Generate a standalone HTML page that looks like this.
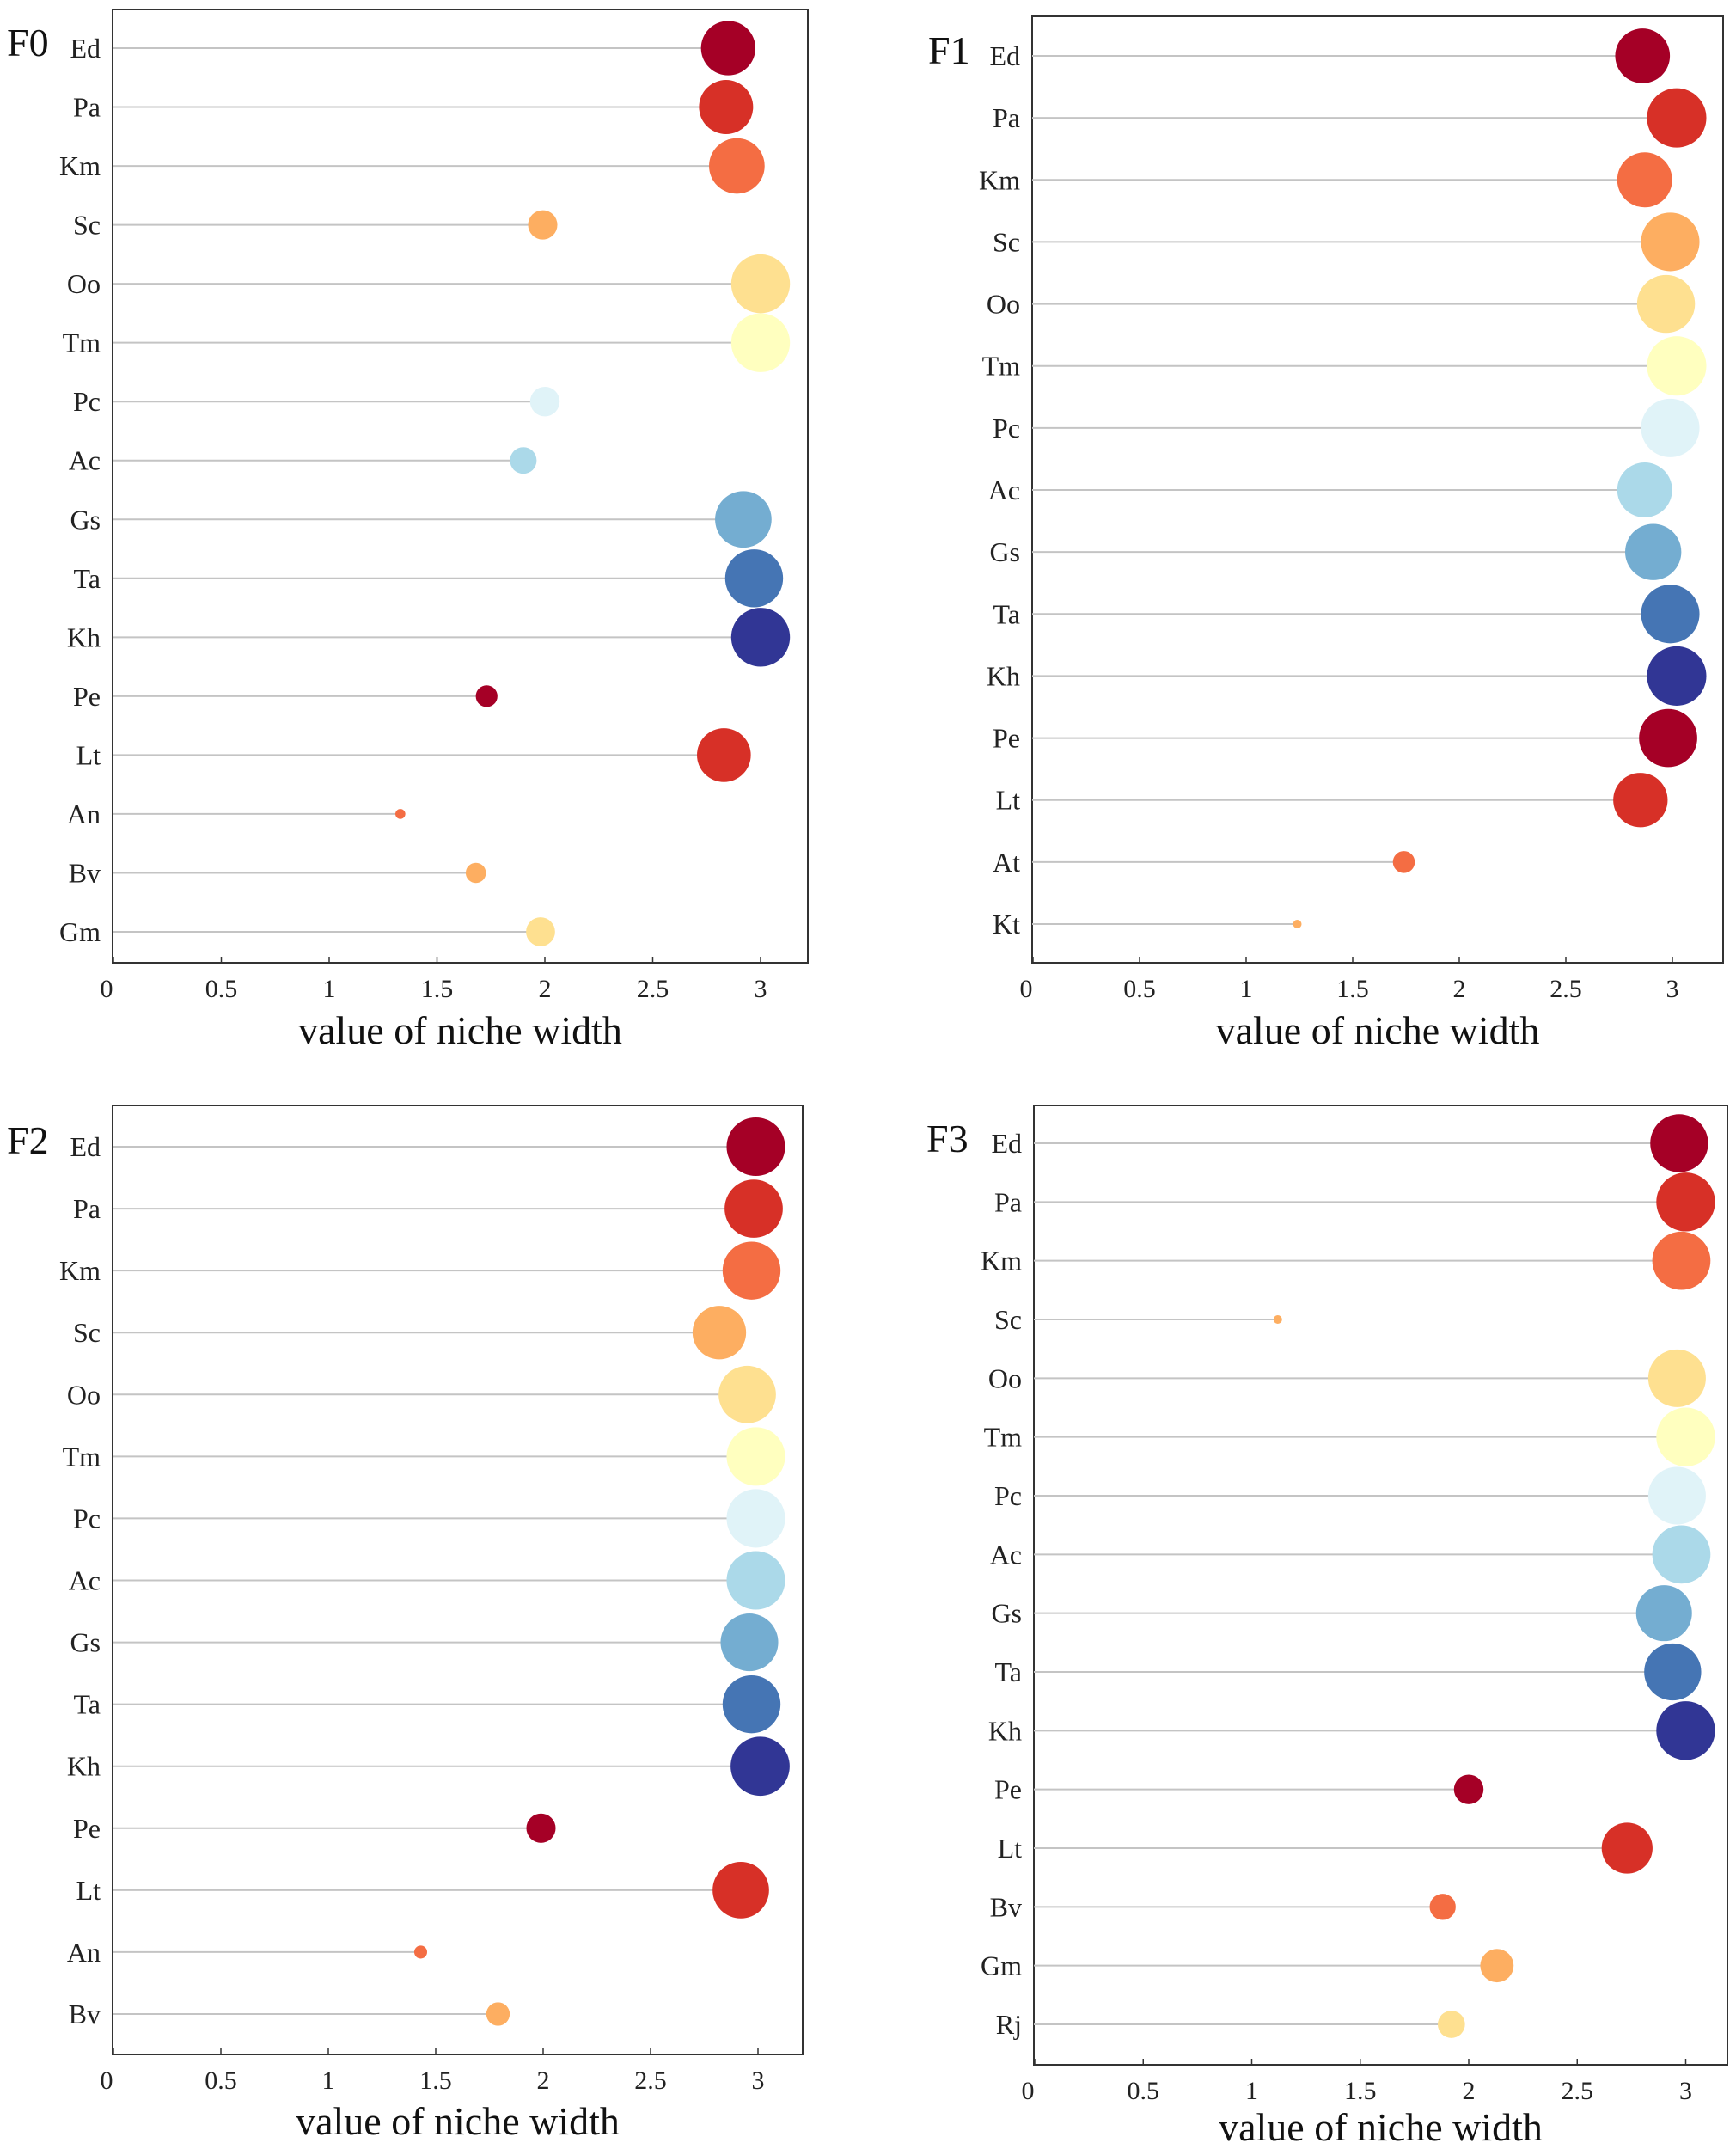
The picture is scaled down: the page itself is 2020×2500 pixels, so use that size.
<!DOCTYPE html>
<html><head><meta charset="utf-8"><style>
html,body{margin:0;padding:0;background:#fff;}
svg{display:block;font-family:"Liberation Serif",serif;}
</style></head><body>
<svg id="chart" width="2020" height="2500" viewBox="0 0 2020 2500" xmlns="http://www.w3.org/2000/svg"></svg>
<script>
const colors = ["#a50026","#d73027","#f46d43","#fdae61","#fee090","#ffffbf","#e0f3f8","#abd9e9","#74add1","#4575b4","#313695","#a50026","#d73027","#f46d43","#fdae61","#fee090"];
const xTicks = [0,0.5,1,1.5,2,2.5,3];
const xTickLabels = ["0","0.5","1","1.5","2","2.5","3"];
const f0Species = ["Ed","Pa","Km","Sc","Oo","Tm","Pc","Ac","Gs","Ta","Kh","Pe","Lt","An","Bv","Gm"];
const f0Values = [2.85,2.84,2.89,1.99,3.0,3.0,2.0,1.90,2.92,2.97,3.0,1.73,2.83,1.33,1.68,1.98];
const f1Species = ["Ed","Pa","Km","Sc","Oo","Tm","Pc","Ac","Gs","Ta","Kh","Pe","Lt","At","Kt"];
const f1Values = [2.86,3.02,2.87,2.99,2.97,3.02,2.99,2.87,2.91,2.99,3.02,2.98,2.85,1.74,1.24];
const f2Species = ["Ed","Pa","Km","Sc","Oo","Tm","Pc","Ac","Gs","Ta","Kh","Pe","Lt","An","Bv"];
const f2Values = [2.99,2.98,2.97,2.82,2.95,2.99,2.99,2.99,2.96,2.97,3.01,1.99,2.92,1.43,1.79];
const f3Species = ["Ed","Pa","Km","Sc","Oo","Tm","Pc","Ac","Gs","Ta","Kh","Pe","Lt","Bv","Gm","Rj"];
const f3Values = [2.97,3.0,2.98,1.12,2.96,3.0,2.96,2.98,2.90,2.94,3.0,2.0,2.73,1.88,2.13,1.92];
const f3Colors = ["#a50026","#d73027","#f46d43","#fdae61","#fee090","#ffffbf","#e0f3f8","#abd9e9","#74add1","#4575b4","#313695","#a50026","#d73027","#f46d43","#fdae61","#fee090"];

const NS="http://www.w3.org/2000/svg";
const svg=document.getElementById('chart');
function mk(tag,attrs,parent){const e=document.createElementNS(NS,tag);for(const k in attrs)e.setAttribute(k,attrs[k]);(parent||svg).appendChild(e);return e;}

function panel(cfg, species, values, cols){
  const g=mk('g',{});
  
  
  const xs=v=>cfg.x0+v*cfg.unit;
  const ys=i=>cfg.yFirst+i*(cfg.yLast-cfg.yFirst)/(species.length-1);
  const box=mk('rect',{x:cfg.left,y:cfg.top,width:cfg.right-cfg.left,height:cfg.bottom-cfg.top,fill:'none',stroke:'#333',"stroke-width":2},g);
  
  
  const ttl=mk('text',{x:cfg.tx,y:cfg.ty,"font-size":46,fill:'#111'},g);
  ttl.textContent=cfg.name;
  
  
  species.forEach((s,i)=>{
    const y=ys(i), v=values[i];
    const ln=mk('line',{x1:cfg.left,x2:xs(v),y1:y,y2:y,stroke:'#c4c4c4',"stroke-width":2},g);
    
    
    const r=Math.max(5,17*v-16.8);
    const c=mk('circle',{cx:xs(v),cy:y,r:r,fill:cols[i]},g);
    
    
    const t=mk('text',{x:cfg.left-14,y:y+11,"text-anchor":'end',"font-size":32,fill:'#222'},g);
    t.textContent=s;
    
    
  });
  xTicks.forEach((v,i)=>{
    const x=xs(v);
    const tk=mk('line',{x1:x,x2:x,y1:cfg.bottom,y2:cfg.bottom-7,stroke:'#333',"stroke-width":1.5},g);
    
    
    const t=mk('text',{x:x-(i===0?8:0),y:cfg.bottom+40,"text-anchor":'middle',"font-size":30,fill:'#222'},g);
    t.textContent=xTickLabels[i];
    
    
  });
  const xl=mk('text',{x:(cfg.left+cfg.right)/2,y:cfg.xly,"text-anchor":'middle',"font-size":46,fill:'#111'},g);
  xl.textContent='value of niche width';
  
  
}

panel({name:'F0',left:131,right:940,top:11,bottom:1120,x0:132,unit:251,yFirst:56,yLast:1084,tx:8,ty:65,xly:1214},f0Species,f0Values,colors);
panel({name:'F1',left:1201,right:2005,top:19,bottom:1120,x0:1202,unit:248,yFirst:65,yLast:1075,tx:1080,ty:74,xly:1214},f1Species,f1Values,colors);
panel({name:'F2',left:131,right:934,top:1286,bottom:2390,x0:132,unit:250,yFirst:1334,yLast:2343,tx:8,ty:1342,xly:2483},f2Species,f2Values,colors);
panel({name:'F3',left:1203,right:2010,top:1286,bottom:2402,x0:1204,unit:252.5,yFirst:1330,yLast:2355,tx:1078,ty:1340,xly:2490},f3Species,f3Values,f3Colors);
</script>
</body></html>
